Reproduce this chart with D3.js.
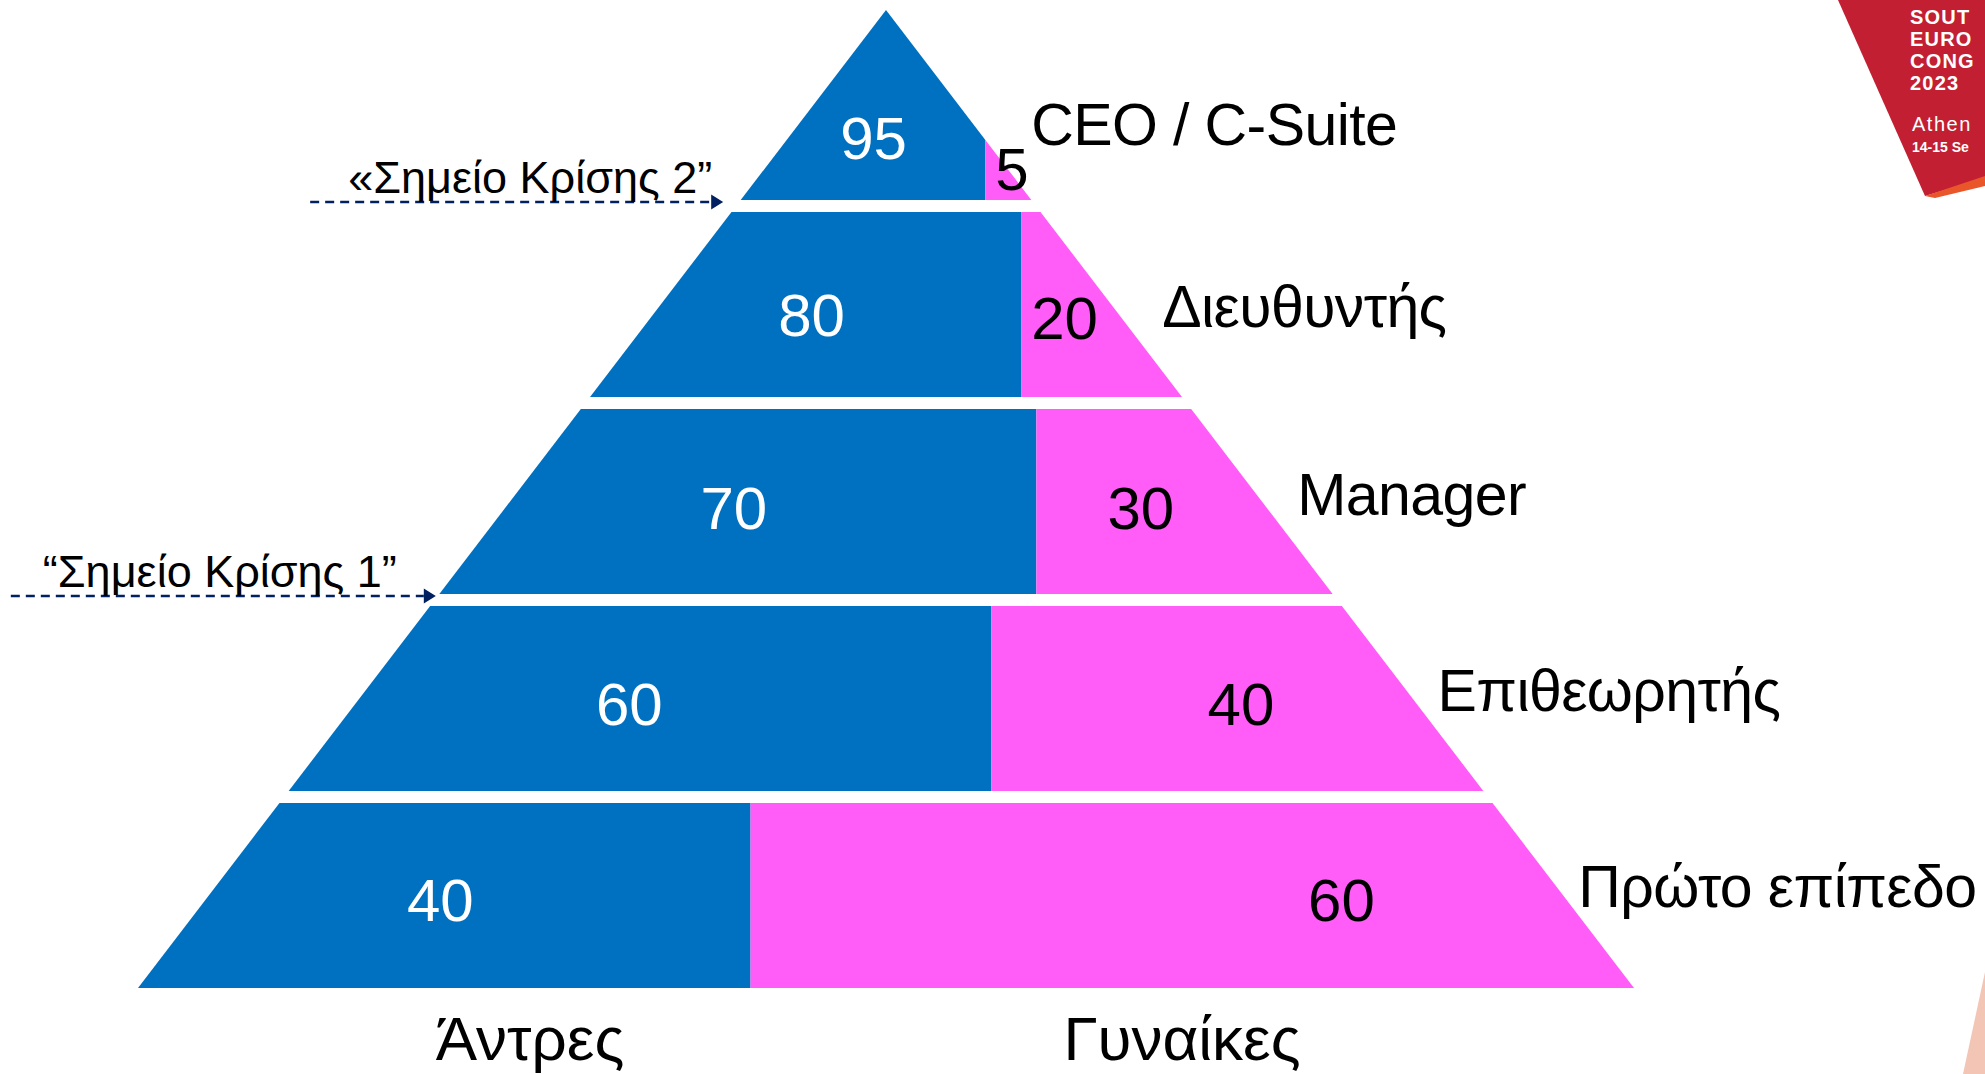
<!DOCTYPE html>
<html><head><meta charset="utf-8">
<script src="https://cdn.jsdelivr.net/npm/d3@7"></script>
<style>html,body{margin:0;padding:0;background:#fff;overflow:hidden}</style>
</head><body><svg id="c" width="1985" height="1074"></svg>
<script>
// ---------- data ----------
const levels = ["CEO / C-Suite", "Διευθυντής", "Manager", "Επιθεωρητής", "Πρώτο επίπεδο"];
const men = [95, 80, 70, 60, 40];
const women = [5, 20, 30, 40, 60];
const groupLabels = ["Άντρες", "Γυναίκες"];
const crisisLabels = ["«Σημείο Κρίσης 2”", "“Σημείο Κρίσης 1”"];
const crisisAfter = ["CEO / C-Suite", "Manager"];
const logoLines = ["SOUT", "EURO", "CONG", "2023"];
const logoCity = "Athen";
const logoDate = "14-15 Se";

// ---------- layout ----------
const BLUE = "#0070C0", PINK = "#FF5CF8", NAVY = "#002060";
const FONT = "'Liberation Sans', Arial, sans-serif";
const apex = {x: 886, y: 10}, baseY = 988, baseHalf = 748;

const svg = d3.select("#c");
const y = d3.scaleBand().domain(levels).range([15, baseY]).paddingInner(0.061).paddingOuter(0);
const half = d3.scaleLinear().domain([apex.y, baseY]).range([0, baseHalf]);
const leftX = yy => apex.x - half(yy);
const rightX = yy => apex.x + half(yy);
const share = d3.scaleLinear().domain([0, 100]).range([0, 1]);

function clip(poly, xc, keepLeft) {
  const out = [];
  const inside = p => keepLeft ? p[0] <= xc : p[0] >= xc;
  for (let i = 0; i < poly.length; i++) {
    const a = poly[i], b = poly[(i + 1) % poly.length];
    const ia = inside(a), ib = inside(b);
    if (ia) out.push(a);
    if (ia !== ib) {
      const t = (xc - a[0]) / (b[0] - a[0]);
      out.push([xc, a[1] + t * (b[1] - a[1])]);
    }
  }
  return out;
}
const area = p => p.length < 3 ? 0 : Math.abs(d3.polygonArea(p));
const pathOf = p => "M" + p.map(q => q[0] + "," + q[1]).join("L") + "Z";

const tiers = levels.map((lv, i) => {
  const top = i === 0 ? apex.y : y(lv);
  const bot = y(lv) + y.bandwidth();
  const poly = i === 0
    ? [[apex.x, apex.y], [rightX(bot), bot], [leftX(bot), bot]]
    : [[leftX(top), top], [rightX(top), top], [rightX(bot), bot], [leftX(bot), bot]];
  const total = area(poly);
  const target = share(men[i]) * total;
  let lo = leftX(bot), hi = rightX(bot);
  for (let k = 0; k < 60; k++) {
    const mid = (lo + hi) / 2;
    if (area(clip(poly, mid, true)) < target) lo = mid; else hi = mid;
  }
  const d = (lo + hi) / 2;
  const bluePoly = clip(poly, d, true), pinkPoly = clip(poly, d, false);
  return {lv, i, top, bot, poly, d, bluePoly, pinkPoly, c: d3.polygonCentroid(poly), pc: d3.polygonCentroid(pinkPoly)};
});

// shapes
svg.selectAll("path.blue").data(tiers).join("path").attr("class", "blue")
  .attr("d", t => pathOf(t.bluePoly)).attr("fill", BLUE);
svg.selectAll("path.pink").data(tiers).join("path").attr("class", "pink")
  .attr("d", t => pathOf(t.pinkPoly)).attr("fill", PINK);

// value labels
const VFS = 60;
tiers.forEach(t => {
  const cy = t.c[1];
  const lx = leftX(cy);
  svg.append("text").attr("x", lx + 0.43 * (t.d - lx)).attr("y", cy + 22)
    .attr("text-anchor", "middle").attr("font-family", FONT).attr("font-size", VFS)
    .attr("fill", "#fff").text(men[t.i]);
  const py = Math.max(cy, t.pc[1] - 12);
  const tw = String(women[t.i]).length * 0.556 * VFS;
  const px = Math.max(t.d + 10 + tw / 2, apex.x + 0.67 * half(py));
  svg.append("text").attr("x", px).attr("y", py + 22)
    .attr("text-anchor", "middle").attr("font-family", FONT).attr("font-size", VFS)
    .attr("fill", "#000").text(women[t.i]);
});

// category labels
tiers.forEach(t => {
  const cy = t.c[1] - 13 + (t.i === 1 ? 5 : 0);
  svg.append("text").attr("x", 1030 + 0.718 * (cy - 122)).attr("y", cy + 21)
    .attr("font-family", FONT).attr("font-size", 59).attr("letter-spacing", -0.6)
    .attr("fill", "#000").text(t.lv);
});

// group labels
svg.append("text").attr("x", 530).attr("y", 1060).attr("text-anchor", "middle")
  .attr("font-family", FONT).attr("font-size", 62).attr("fill", "#000").text(groupLabels[0]);
svg.append("text").attr("x", 1182).attr("y", 1060).attr("text-anchor", "middle")
  .attr("font-family", FONT).attr("font-size", 62).attr("fill", "#000").text(groupLabels[1]);

// crisis arrows
const crisisLen = [413, 425], crisisTextPad = [38, 32];
crisisAfter.forEach((lv, k) => {
  const ly = y(lv) + y.bandwidth() + 2;
  const tip = leftX(ly) - (k === 0 ? 16 : 2);
  const start = tip - crisisLen[k];
  svg.append("line").attr("x1", start).attr("x2", tip - 12).attr("y1", ly).attr("y2", ly)
    .attr("stroke", NAVY).attr("stroke-width", 2.6).attr("stroke-dasharray", "9,6");
  svg.append("path").attr("d", `M${tip},${ly}L${tip - 12},${ly - 7.5}L${tip - 12},${ly + 7.5}Z`).attr("fill", NAVY);
  svg.append("text").attr("x", start + crisisTextPad[k]).attr("y", ly - 9)
    .attr("font-family", FONT).attr("font-size", 45)
    .attr("fill", "#000").text(crisisLabels[k]);
});

// logo (top-right corner)
const logo = svg.append("g");
logo.append("path").attr("d", "M1838,0L1985,0L1985,178L1925,196Z").attr("fill", "#C21F32");
logo.append("path").attr("d", "M1925,196L1985,176L1985,186L1935,198Z").attr("fill", "#E8562A");
logoLines.forEach((s, i) => logo.append("text").attr("x", 1910).attr("y", 24 + i * 22)
  .attr("font-family", FONT).attr("font-weight", "bold").attr("font-size", 20)
  .attr("letter-spacing", 1.2).attr("fill", "#fff").text(s));
logo.append("text").attr("x", 1912).attr("y", 131).attr("font-family", FONT).attr("font-size", 20)
  .attr("letter-spacing", 1.5).attr("fill", "#fff").text(logoCity);
logo.append("text").attr("x", 1912).attr("y", 152).attr("font-family", FONT).attr("font-weight", "bold")
  .attr("font-size", 14).attr("fill", "#fff").text(logoDate);
svg.append("path").attr("d", "M1985,972L1985,1074L1963,1074Z").attr("fill", "#F3C5B5");
</script></body></html>
